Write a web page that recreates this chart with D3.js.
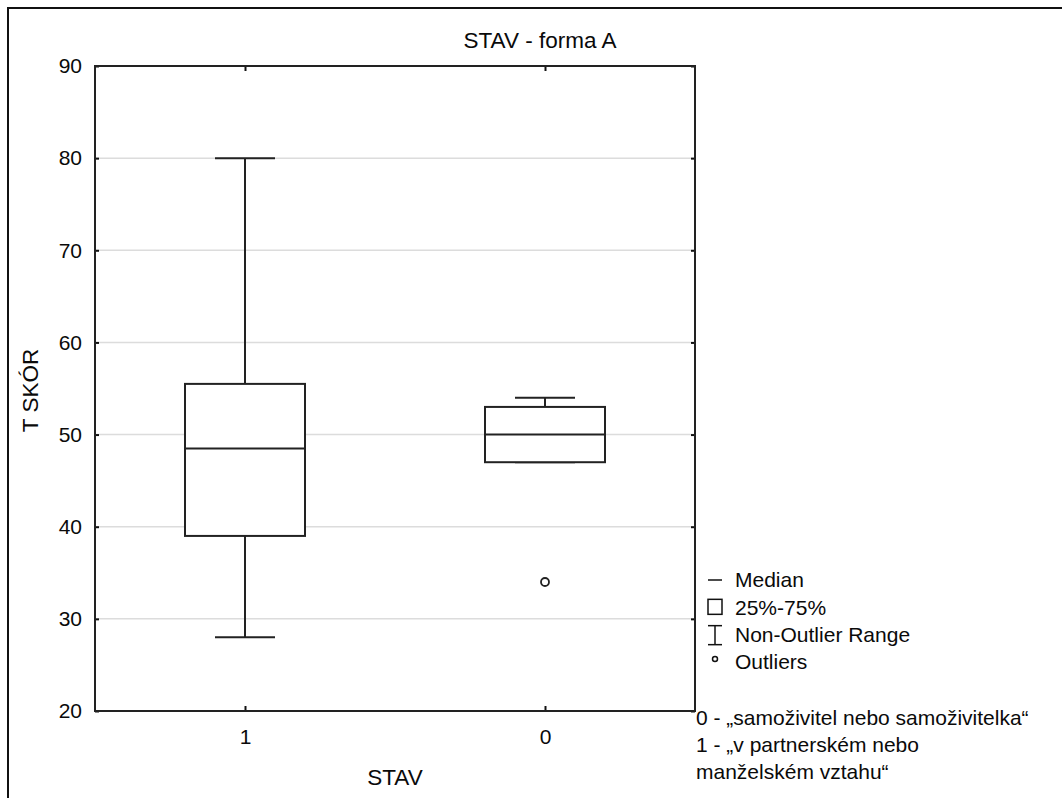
<!DOCTYPE html>
<html>
<head>
<meta charset="utf-8">
<script src="https://cdn.jsdelivr.net/npm/d3@7"></script>
<style>
  body { margin: 0; background: #fff; }
  text { font-family: "Liberation Sans", Arial, sans-serif; fill: #0a0a0a; }
</style>
</head>
<body>
<svg id="chart"></svg>
<script>
// categories in display order
const categories = ["1", "0"];
const q1 = [39, 47];
const median = [48.5, 50];
const q3 = [55.5, 53];
const whiskerLow = [28, 47];
const whiskerHigh = [80, 54];
const outliers = [[], [34]];

const yTicks = [20, 30, 40, 50, 60, 70, 80, 90];
const legendItems = ["Median", "25%-75%", "Non-Outlier Range", "Outliers"];
const notes = ["0 - „samoživitel nebo samoživitelka“", "1 - „v partnerském nebo", "manželském vztahu“"];

const width = 1062, height = 798;
const margin = {left: 95, right: 367, top: 66, bottom: 87};
const fontSize = 21;
const titleSize = 22.5;

const svg = d3.select("#chart")
    .attr("width", width)
    .attr("height", height)
    .attr("viewBox", [0, 0, width, height]);

// outer frame (right/bottom edges lie outside the picture)
svg.append("rect")
    .attr("x", 8).attr("y", 8)
    .attr("width", width + 20).attr("height", height + 20)
    .attr("fill", "none")
    .attr("stroke", "#111")
    .attr("stroke-width", 2);

const x = d3.scalePoint()
    .domain(categories)
    .range([margin.left, width - margin.right])
    .padding(0.5);

const y = d3.scaleLinear()
    .domain([20, 90])
    .range([height - margin.bottom, margin.top]);

const x0 = margin.left, x1 = width - margin.right;
const y0 = height - margin.bottom, y1 = margin.top;

// grid
svg.append("g")
    .selectAll("line")
    .data(yTicks.filter(t => t > 20 && t < 90))
    .join("line")
    .attr("x1", x0).attr("x2", x1)
    .attr("y1", d => y(d)).attr("y2", d => y(d))
    .attr("stroke", "#dcdcdc")
    .attr("stroke-width", 1.5);

// y axis labels + inward ticks on both sides
const yAxisL = svg.append("g")
    .attr("transform", `translate(${x0},0)`)
    .call(d3.axisLeft(y).tickValues(yTicks).tickSize(-4).tickPadding(13));
const yAxisR = svg.append("g")
    .attr("transform", `translate(${x1},0)`)
    .call(d3.axisRight(y).tickValues(yTicks).tickSize(-4).tickFormat(""));
const xAxisB = svg.append("g")
    .attr("transform", `translate(0,${y0})`)
    .call(d3.axisBottom(x).tickSize(-5).tickPadding(18));
const xAxisT = svg.append("g")
    .attr("transform", `translate(0,${y1})`)
    .call(d3.axisTop(x).tickSize(-5).tickFormat(""));

[yAxisL, yAxisR, xAxisB, xAxisT].forEach(a => {
    a.select(".domain").remove();
    a.selectAll(".tick line").attr("stroke", "#111").attr("stroke-width", 2);
    a.selectAll(".tick text")
        .attr("font-size", fontSize)
        .attr("font-family", "Liberation Sans, Arial, sans-serif")
        .attr("fill", "#0a0a0a");
});

// plot border
svg.append("rect")
    .attr("x", x0).attr("y", y1)
    .attr("width", x1 - x0).attr("height", y0 - y1)
    .attr("fill", "none")
    .attr("stroke", "#222")
    .attr("stroke-width", 2);

const boxW = x.step() * 0.4;
const capW = boxW / 2;

const boxes = svg.append("g")
    .selectAll("g")
    .data(categories.map((c, i) => ({c, i})))
    .join("g")
    .attr("stroke", "#222")
    .attr("stroke-width", 2);

// whiskers
boxes.append("line")
    .attr("x1", d => x(d.c)).attr("x2", d => x(d.c))
    .attr("y1", d => y(whiskerHigh[d.i])).attr("y2", d => y(whiskerLow[d.i]));
boxes.append("line")
    .attr("x1", d => x(d.c) - capW / 2).attr("x2", d => x(d.c) + capW / 2)
    .attr("y1", d => y(whiskerHigh[d.i])).attr("y2", d => y(whiskerHigh[d.i]));
boxes.append("line")
    .attr("x1", d => x(d.c) - capW / 2).attr("x2", d => x(d.c) + capW / 2)
    .attr("y1", d => y(whiskerLow[d.i])).attr("y2", d => y(whiskerLow[d.i]));

// box
boxes.append("rect")
    .attr("x", d => x(d.c) - boxW / 2)
    .attr("width", boxW)
    .attr("y", d => y(q3[d.i]))
    .attr("height", d => y(q1[d.i]) - y(q3[d.i]))
    .attr("fill", "#fff");

// median
boxes.append("line")
    .attr("x1", d => x(d.c) - boxW / 2).attr("x2", d => x(d.c) + boxW / 2)
    .attr("y1", d => y(median[d.i])).attr("y2", d => y(median[d.i]));

// outliers
boxes.selectAll("circle")
    .data(d => outliers[d.i].map(v => ({c: d.c, v})))
    .join("circle")
    .attr("cx", d => x(d.c))
    .attr("cy", d => y(d.v))
    .attr("r", 4)
    .attr("fill", "#fff")
    .attr("stroke-width", 1.8);

// title and axis labels
svg.append("text")
    .attr("x", 540).attr("y", 48)
    .attr("text-anchor", "middle")
    .attr("font-size", titleSize)
    .text("STAV - forma A");

svg.append("text")
    .attr("x", (x0 + x1) / 2).attr("y", 785)
    .attr("text-anchor", "middle")
    .attr("font-size", titleSize)
    .text("STAV");

svg.append("text")
    .attr("transform", `translate(38,${(y0 + y1) / 2 + 2}) rotate(-90)`)
    .attr("text-anchor", "middle")
    .attr("font-size", titleSize)
    .text("T SKÓR");

// legend
const lg = svg.append("g").attr("transform", "translate(708,0)");
const rowY = d3.scalePoint().domain(legendItems).range([580, 662]);
lg.selectAll("text")
    .data(legendItems)
    .join("text")
    .attr("x", 27)
    .attr("y", d => rowY(d))
    .attr("dy", "0.35em")
    .attr("font-size", fontSize)
    .text(d => d);

const sym = lg.append("g").attr("stroke", "#111").attr("stroke-width", 1.5).attr("fill", "none");
sym.append("line").attr("x1", 0).attr("x2", 14)
    .attr("y1", rowY("Median")).attr("y2", rowY("Median"));
sym.append("rect").attr("x", 0).attr("y", rowY("25%-75%") - 8).attr("width", 14).attr("height", 15);
const ny = rowY("Non-Outlier Range");
sym.append("line").attr("x1", 7).attr("x2", 7).attr("y1", ny - 9).attr("y2", ny + 10);
sym.append("line").attr("x1", 0).attr("x2", 14).attr("y1", ny - 9).attr("y2", ny - 9);
sym.append("line").attr("x1", 0).attr("x2", 14).attr("y1", ny + 10).attr("y2", ny + 10);
sym.append("circle").attr("cx", 7).attr("cy", rowY("Outliers") - 3).attr("r", 2.5);

svg.append("g")
    .selectAll("text")
    .data(notes)
    .join("text")
    .attr("x", 696)
    .attr("y", (d, i) => 718 + i * 27)
    .attr("dy", "0.35em")
    .attr("font-size", fontSize)
    .text(d => d);
</script>
</body>
</html>
